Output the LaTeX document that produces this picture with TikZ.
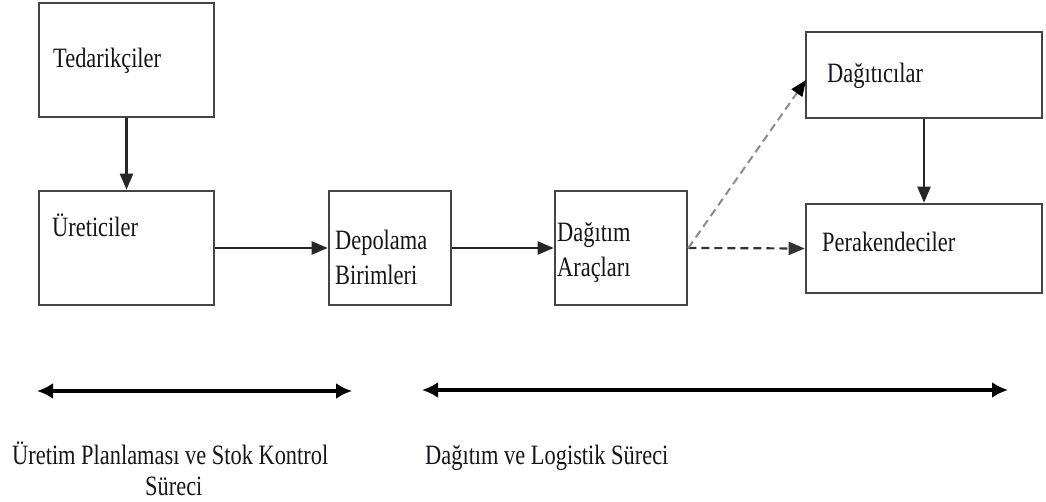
\documentclass[tikz,border=0pt]{standalone}
\usepackage{fontspec}
\setmainfont{Liberation Serif}[FakeStretch=0.8]
\usetikzlibrary{arrows.meta}
\definecolor{boxline}{HTML}{454545}
\definecolor{txt}{HTML}{14141C}
\tikzset{
  box/.style={draw=boxline, line width=2.6pt, fill=white, inner sep=0pt},
  lbl/.style={anchor=base west, inner sep=0pt, text=txt, font=\fontsize{28}{28}\selectfont},
  conn/.style={line width=2.2pt, draw=black!85, -{Triangle[length=16pt,width=13pt]}},
  dconn/.style={line width=2.2pt, draw=black!80, dash pattern=on 8pt off 5pt, -{Triangle[length=16pt,width=13pt]}},
  gconn/.style={line width=2pt, draw=black!45, dash pattern=on 8pt off 5pt, -{Triangle[length=16pt,width=13pt,color=black,fill=black]}},
  span/.style={line width=3.2pt, draw=black, {Latex[length=16pt,width=16pt]}-{Latex[length=16pt,width=16pt]}}
}
\begin{document}
\begin{tikzpicture}[x=1pt,y=-1pt]
\useasboundingbox (0,0) rectangle (1046,502);
% boxes
\node[box, minimum width=175pt, minimum height=114pt] (ted) at (126.5,60) {};
\node[box, minimum width=175pt, minimum height=114pt] (uret) at (126.5,248) {};
\node[box, minimum width=122pt, minimum height=114pt] (depo) at (390,248) {};
\node[box, minimum width=132pt, minimum height=114pt] (dagar) at (621,248) {};
\node[box, minimum width=236pt, minimum height=86pt] (dagci) at (924,75) {};
\node[box, minimum width=236pt, minimum height=89pt] (perak) at (924,248.5) {};
% texts
\node[lbl] (tTed) at (53,68) {Tedarikçiler};
\node[lbl] (tUret) at (52,237) {Üreticiler};
\node[lbl] (tDepo1) at (335,250) {Depolama};
\node[lbl] (tDepo2) at (335,285) {Birimleri};
\node[lbl] (tDag1) at (557,242) {Dağıtım};
\node[lbl] (tDag2) at (557,277) {Araçları};
\node[lbl] (tDagci) at (827,83) {Dağıtıcılar};
\node[lbl] (tPerak) at (822,252) {Perakendeciler};
% connectors
\draw[conn] (ted.south) -- (uret.north);
\draw[conn] (uret.east) -- (depo.west);
\draw[conn] (depo.east) -- (dagar.west);
\draw[conn] (dagci.south) -- (perak.north);
\draw[dconn] (dagar.east) -- (perak.west);
\coordinate (gt) at (806,80);
\draw[gconn] (dagar.east) -- (gt);
% spans
\coordinate (s1a) at (37,391);
\coordinate (s1b) at (352,391);
\coordinate (s2a) at (422,390);
\coordinate (s2b) at (1008,390);
\draw[span] (s1a) -- (s1b);
\draw[span] (s2a) -- (s2b);
\node[lbl] (tUp1) at (12,464) {Üretim Planlaması ve Stok Kontrol};
\node[lbl] (tUp2) at (145,495) {Süreci};
\node[lbl] (tDl) at (425,464) {Dağıtım ve Logistik Süreci};
\end{tikzpicture}
\end{document}
